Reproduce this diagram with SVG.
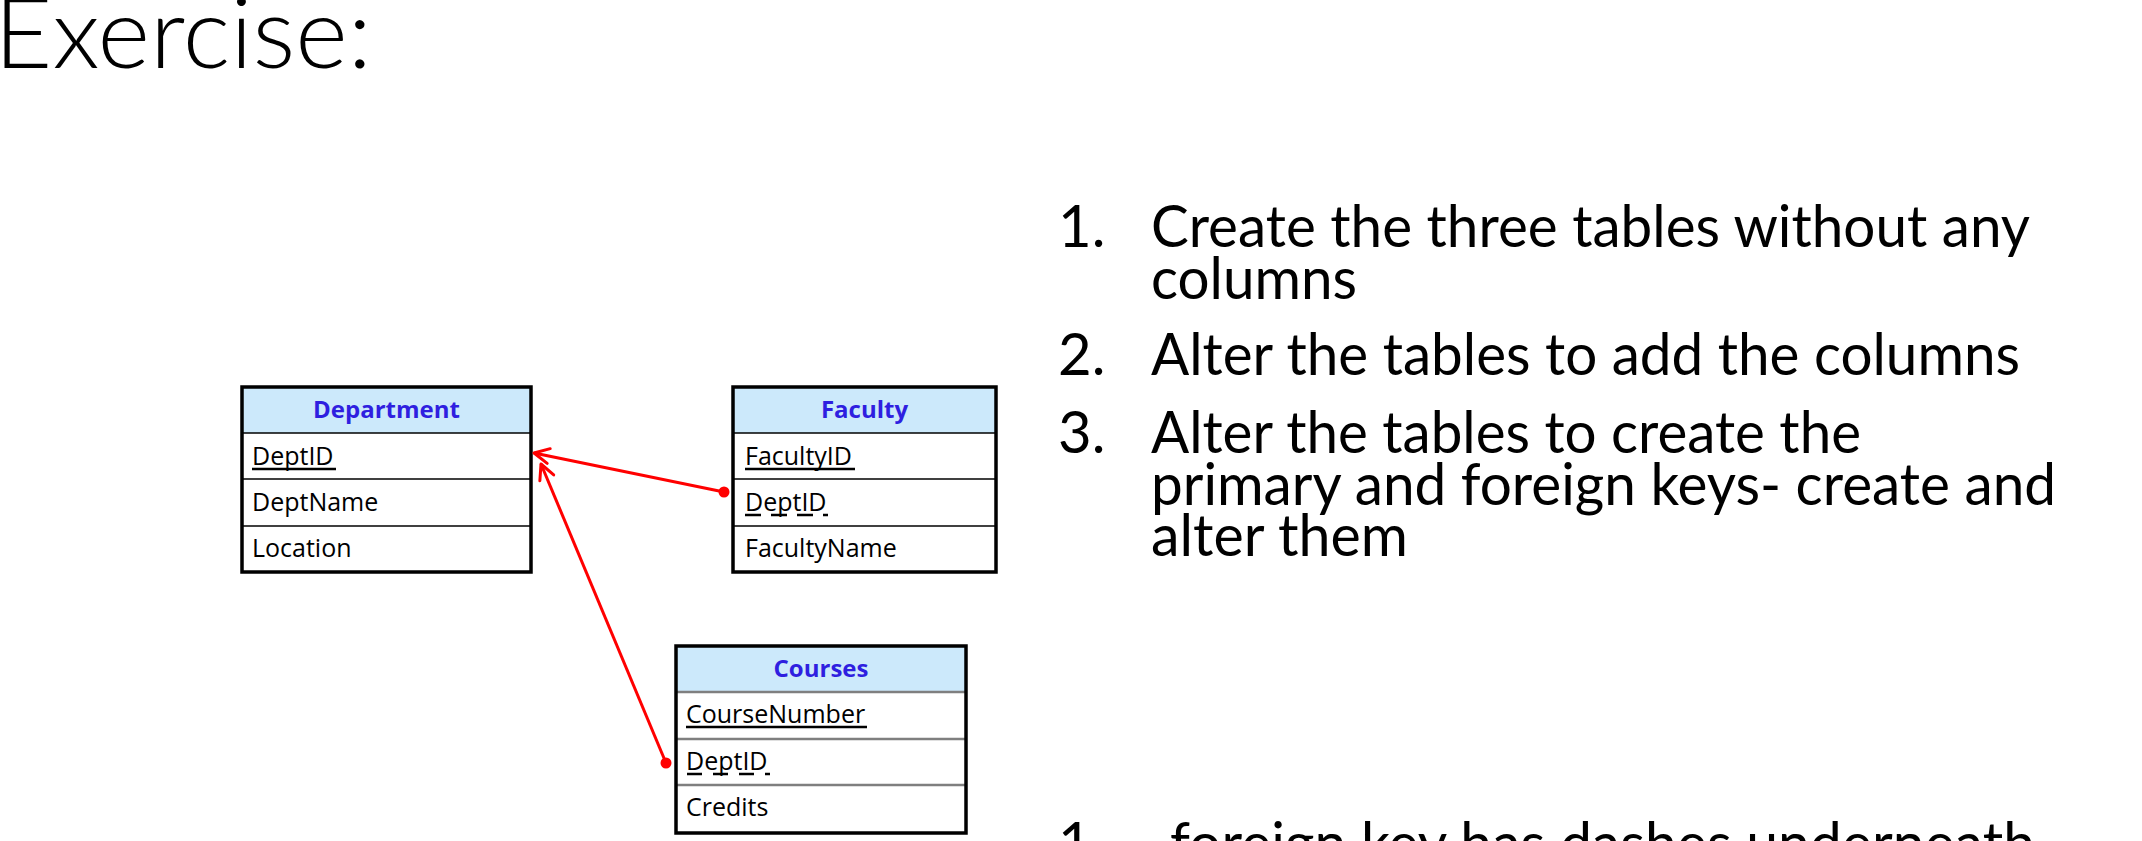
<svg xmlns="http://www.w3.org/2000/svg" width="2142" height="841" viewBox="0 0 2142 841">
<style>
.title{font-family:Lato,"Liberation Sans",sans-serif;font-weight:300;font-size:99px;fill:#000}
.list{font-family:Lato,"Liberation Sans",sans-serif;font-size:58px;fill:#000}
.hdr{font-family:"Open Sans","Liberation Sans",sans-serif;font-weight:bold;font-size:24px;fill:#2f1fe0;text-anchor:middle}
.row{font-family:"Open Sans","Liberation Sans",sans-serif;font-size:25px;fill:#000}
.hfill{fill:#cce9fb}
.box{fill:none;stroke:#000;stroke-width:3.5}
.sep{stroke:#000;stroke-width:1.5}
.sepg{stroke:#7f7f7f;stroke-width:2.5}
.ul{stroke:#000;stroke-width:2.5}
.conn{stroke:#ff0000;stroke-width:3;fill:none}
</style>
<defs>
<marker id="open" markerUnits="userSpaceOnUse" markerWidth="24" markerHeight="24" viewBox="-20 -12 24 24" refX="0" refY="0" orient="auto">
<path d="M-15,-7.5 L0,0 L-15,7.5" fill="none" stroke="#ff0000" stroke-width="3" stroke-linecap="round" stroke-linejoin="round"/>
</marker>
<marker id="dot" markerUnits="userSpaceOnUse" markerWidth="14" markerHeight="14" viewBox="-7 -7 14 14" refX="0" refY="0">
<circle cx="0" cy="0" r="5.5" fill="#ff0000"/>
</marker>
</defs>
<rect width="2142" height="841" fill="#fff"/>

<g id="title">
<text class="title" x="-6" y="68" textLength="378" lengthAdjust="spacingAndGlyphs">Exercise:</text>
</g>

<g id="instructions">
<text class="list" x="1058" y="247">1.</text>
<text class="list" x="1151" y="247" textLength="879" lengthAdjust="spacingAndGlyphs">Create the three tables without any</text>
<text class="list" x="1151" y="299" textLength="206" lengthAdjust="spacingAndGlyphs">columns</text>
<text class="list" x="1058" y="375">2.</text>
<text class="list" x="1151" y="375" textLength="869" lengthAdjust="spacingAndGlyphs">Alter the tables to add the columns</text>
<text class="list" x="1058" y="453">3.</text>
<text class="list" x="1151" y="453" textLength="710" lengthAdjust="spacingAndGlyphs">Alter the tables to create the</text>
<text class="list" x="1151" y="505" textLength="905" lengthAdjust="spacingAndGlyphs">primary and foreign keys- create and</text>
<text class="list" x="1151" y="556" textLength="257" lengthAdjust="spacingAndGlyphs">alter them</text>
<text class="list" x="1058" y="864">1.</text>
<text class="list" x="1170" y="864" textLength="865" lengthAdjust="spacingAndGlyphs">foreign key has dashes underneath</text>
</g>

<g id="department">
<rect class="hfill" x="242" y="387" width="289" height="46"/>
<line class="sep" x1="242" y1="433" x2="531" y2="433"/>
<line class="sep" x1="242" y1="479" x2="531" y2="479"/>
<line class="sep" x1="242" y1="526" x2="531" y2="526"/>
<rect class="box" x="242" y="387" width="289" height="185"/>
<text class="hdr" x="386.5" y="418">Department</text>
<text class="row" x="252" y="465">DeptID</text>
<line class="ul" x1="252" y1="469" x2="336" y2="469"/>
<text class="row" x="252" y="511">DeptName</text>
<text class="row" x="252" y="557">Location</text>
</g>

<g id="faculty">
<rect class="hfill" x="733" y="387" width="263" height="46"/>
<line class="sep" x1="733" y1="433" x2="996" y2="433"/>
<line class="sep" x1="733" y1="479" x2="996" y2="479"/>
<line class="sep" x1="733" y1="526" x2="996" y2="526"/>
<rect class="box" x="733" y="387" width="263" height="185"/>
<text class="hdr" x="864.5" y="418">Faculty</text>
<text class="row" x="745" y="465">FacultyID</text>
<line class="ul" x1="745" y1="469" x2="855" y2="469"/>
<text class="row" x="745" y="511">DeptID</text>
<line class="ul" x1="745" y1="515" x2="828" y2="515" stroke-dasharray="16 10"/>
<text class="row" x="745" y="557">FacultyName</text>
</g>

<g id="courses">
<rect class="hfill" x="676" y="646" width="290" height="46"/>
<line class="sepg" x1="676" y1="692" x2="966" y2="692"/>
<line class="sepg" x1="676" y1="739" x2="966" y2="739"/>
<line class="sepg" x1="676" y1="785" x2="966" y2="785"/>
<rect class="box" x="676" y="646" width="290" height="187"/>
<text class="hdr" x="821" y="677">Courses</text>
<text class="row" x="686" y="723">CourseNumber</text>
<line class="ul" x1="686" y1="727" x2="867" y2="727"/>
<text class="row" x="686" y="770">DeptID</text>
<line class="ul" x1="687" y1="774" x2="770" y2="774" stroke-dasharray="15 11"/>
<text class="row" x="686" y="816">Credits</text>
</g>

<g id="connectors">
<line class="conn" x1="724" y1="492" x2="534" y2="453" marker-start="url(#dot)" marker-end="url(#open)"/>
<line class="conn" x1="666" y1="763" x2="541" y2="464" marker-start="url(#dot)" marker-end="url(#open)"/>
</g>
</svg>
